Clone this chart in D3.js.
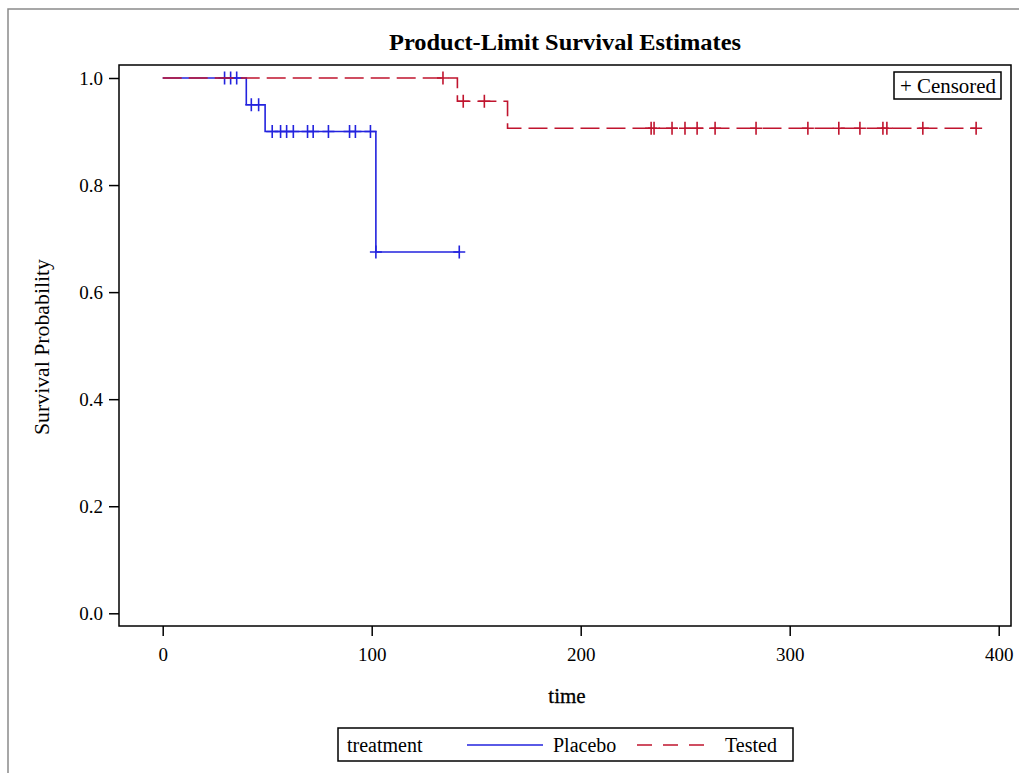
<!DOCTYPE html>
<html>
<head>
<meta charset="utf-8">
<script src="https://cdn.jsdelivr.net/npm/d3@7"></script>
<style>
  body { margin: 0; background: #fff; }
  text { font-family: "Liberation Serif", "Times New Roman", serif; fill: #000; }
</style>
</head>
<body>
<script>
const width = 1019;
const height = 773;

// Product-limit step points (time, survival) and censoring times
const placeboTime = [0, 40, 49, 102, 141.9];
const placeboSurv = [1.0, 0.95, 0.90, 0.675, 0.675];
const placeboCensored = [29.6, 32.5, 35.4, 42.4, 45.9, 52.4, 56.4, 59.3, 62.5, 69.3, 72, 79.3, 89.4, 92.2, 99.4, 102, 141.9];

const testedTime = [0, 141, 165, 389.2];
const testedSurv = [1.0, 0.9565, 0.9062, 0.9062];
const testedCensored = [134.1, 143.8, 153.9, 233.7, 235.1, 243.7, 249.9, 255.7, 264.3, 283.9, 308.7, 323.5, 333.6, 344.6, 346.5, 363.7, 389.2];

const xTicks = [0, 100, 200, 300, 400];
const yTicks = [0, 0.2, 0.4, 0.6, 0.8, 1.0];

const plotLeft = 119, plotRight = 1011, plotTop = 65, plotBottom = 626;

const xScale = d3.scaleLinear().domain([0, 400]).range([162.7, 998.7]);
const yScale = d3.scaleLinear().domain([0, 1]).range([613.3, 78]);

const svg = d3.select("body").append("svg")
    .attr("width", width).attr("height", height);

// outer frame
svg.append("path")
    .attr("d", `M8,${height} L8,9 L${width},9`)
    .attr("fill", "none").attr("stroke", "#8a8a8a").attr("stroke-width", 1.5);

svg.append("text")
    .attr("x", 565).attr("y", 50)
    .attr("text-anchor", "middle")
    .style("font-size", "24px").style("font-weight", "bold")
    .attr("textLength", 352).attr("lengthAdjust", "spacingAndGlyphs")
    .text("Product-Limit Survival Estimates");

// axes
const yAxis = d3.axisLeft(yScale).tickValues(yTicks).tickFormat(d3.format(".1f"))
    .tickSize(10).tickPadding(6);
const xAxis = d3.axisBottom(xScale).tickValues(xTicks).tickFormat(d3.format("d"))
    .tickSize(10).tickPadding(12);

const gy = svg.append("g").attr("transform", `translate(${plotLeft},0)`).call(yAxis);
const gx = svg.append("g").attr("transform", `translate(0,${plotBottom})`).call(xAxis);
[gx, gy].forEach(g => {
    g.select(".domain").remove();
    g.selectAll(".tick line").attr("stroke", "#000").attr("stroke-width", 1.5);
    g.selectAll(".tick text")
        .style("font-family", "'Liberation Serif', serif")
        .style("font-size", "19px").attr("fill", "#000");
});

svg.append("rect")
    .attr("x", plotLeft).attr("y", plotTop)
    .attr("width", plotRight - plotLeft).attr("height", plotBottom - plotTop)
    .attr("fill", "none").attr("stroke", "#000").attr("stroke-width", 1.5);

svg.append("text")
    .attr("x", 567).attr("y", 703).attr("text-anchor", "middle")
    .style("font-size", "21px")
    .attr("stroke", "#000").attr("stroke-width", 0.3)
    .text("time");

svg.append("text")
    .attr("transform", "translate(49,347) rotate(-90)")
    .attr("text-anchor", "middle")
    .style("font-size", "21px")
    .attr("textLength", 176).attr("lengthAdjust", "spacingAndGlyphs")
    .text("Survival Probability");

// survival curves
const line = d3.line()
    .x(d => xScale(d[0])).y(d => yScale(d[1]))
    .curve(d3.curveStepAfter);

function survAt(times, surv, t) {
    let s = surv[0];
    for (let i = 0; i < times.length; i++) if (times[i] <= t) s = surv[i];
    return s;
}

const series = [
    {name: "Placebo", time: placeboTime, surv: placeboSurv, cens: placeboCensored, color: "#2323de", dash: null},
    {name: "Tested", time: testedTime, surv: testedSurv, cens: testedCensored, color: "#c0142e", dash: "19,7"}
];

series.forEach(s => {
    const pts = s.time.map((t, i) => [t, s.surv[i]]);
    svg.append("path")
        .datum(pts)
        .attr("d", line)
        .attr("fill", "none")
        .attr("stroke", s.color)
        .attr("stroke-width", 1.6)
        .attr("stroke-dasharray", s.dash);

    const marks = svg.append("g");
    marks.selectAll("path").data(s.cens).enter().append("path")
        .attr("d", t => {
            const cx = xScale(t), cy = yScale(survAt(s.time, s.surv, t));
            return `M${cx - 6},${cy} L${cx + 6},${cy} M${cx},${cy - 6.5} L${cx},${cy + 6.5}`;
        })
        .attr("stroke", s.color).attr("stroke-width", 1.6).attr("fill", "none");
});

// censored legend
svg.append("rect")
    .attr("x", 894).attr("y", 72).attr("width", 107).attr("height", 27)
    .attr("fill", "#fff").attr("stroke", "#000").attr("stroke-width", 1.5);
svg.append("text")
    .attr("x", 900).attr("y", 93)
    .style("font-size", "20px")
    .attr("textLength", 96).attr("lengthAdjust", "spacingAndGlyphs")
    .text("+ Censored");

// bottom legend
svg.append("rect")
    .attr("x", 338).attr("y", 728).attr("width", 455).attr("height", 33)
    .attr("fill", "#fff").attr("stroke", "#000").attr("stroke-width", 1.5);
svg.append("text").attr("x", 347).attr("y", 752).style("font-size", "20px").text("treatment");

const legendItems = [
    {name: "Placebo", x1: 467, x2: 543, tx: 553},
    {name: "Tested", x1: 637, x2: 708, tx: 725}
];
legendItems.forEach((d, i) => {
    const s = series[i];
    svg.append("line")
        .attr("x1", d.x1).attr("x2", d.x2).attr("y1", 745).attr("y2", 745)
        .attr("stroke", s.color).attr("stroke-width", 1.6)
        .attr("stroke-dasharray", s.dash ? "15,11" : null);
    svg.append("text").attr("x", d.tx).attr("y", 752).style("font-size", "20px").text(d.name);
});
</script>
</body>
</html>
